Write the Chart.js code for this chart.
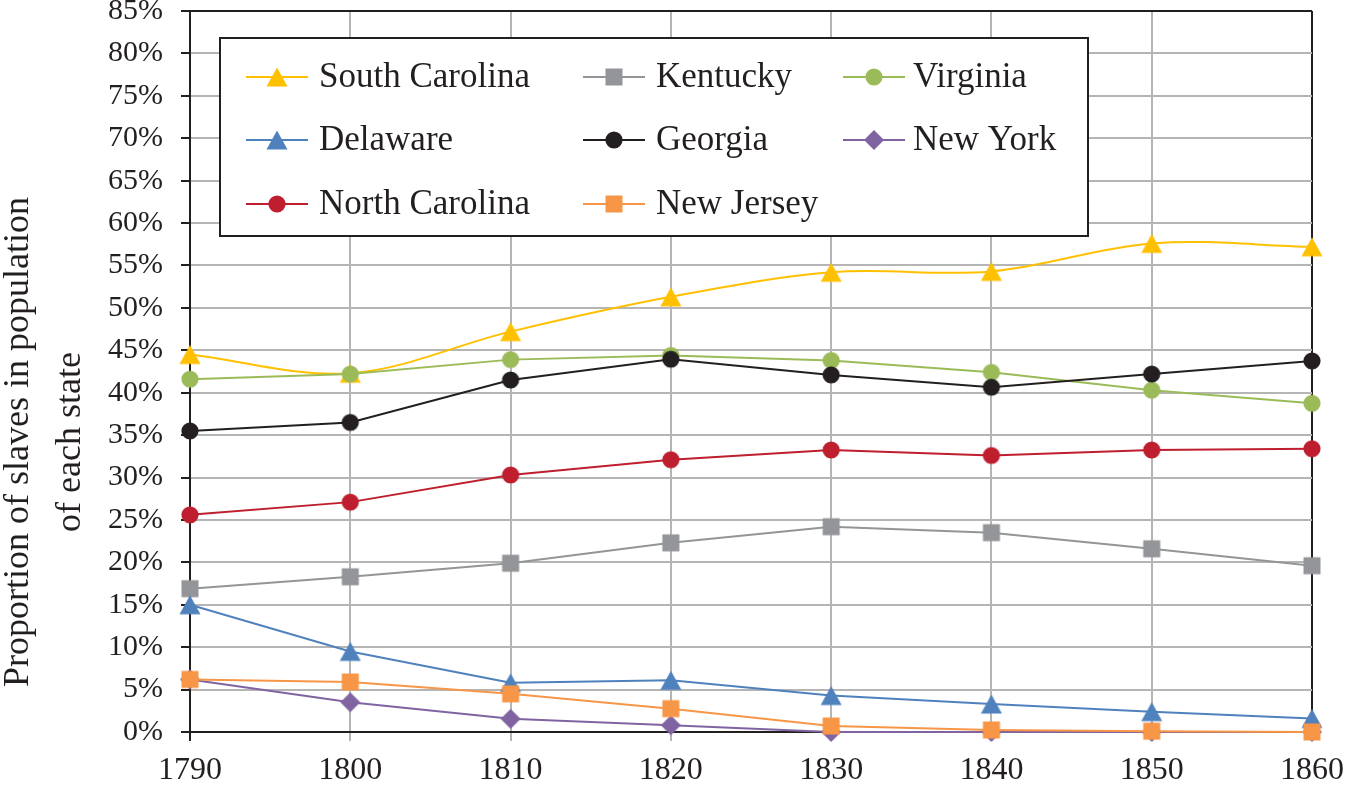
<!DOCTYPE html>
<html>
<head>
<meta charset="utf-8">
<script src="https://cdn.jsdelivr.net/npm/chart.js@4/dist/chart.umd.min.js"></script>
<style>
html,body{margin:0;padding:0;background:#fff;}
#wrap{width:1345px;height:788px;position:relative;}
canvas{display:block;}
</style>
</head>
<body>
<div id="wrap"><canvas id="c" width="1345" height="788"></canvas></div>
<script>
// ---- data ----
const years = ['1790','1800','1810','1820','1830','1840','1850','1860'];
const yTickValues = [0,5,10,15,20,25,30,35,40,45,50,55,60,65,70,75,80,85];
const seriesNames = ['South Carolina','Delaware','North Carolina','Kentucky','Georgia','New Jersey','Virginia','New York'];
const southCarolina = [44.5, 42.3, 47.2, 51.3, 54.2, 54.3, 57.6, 57.2];
const delaware      = [15.0, 9.5, 5.8, 6.1, 4.3, 3.3, 2.4, 1.6];
const northCarolina = [25.6, 27.1, 30.3, 32.1, 33.25, 32.6, 33.25, 33.4];
const kentucky      = [16.9, 18.3, 19.9, 22.3, 24.2, 23.5, 21.6, 19.6];
const georgia       = [35.5, 36.5, 41.5, 43.95, 42.1, 40.65, 42.2, 43.75];
const newJersey     = [6.2, 5.9, 4.5, 2.75, 0.7, 0.24, 0.1, 0];
const virginia      = [41.6, 42.2, 43.9, 44.4, 43.8, 42.4, 40.3, 38.75];
const newYork       = [6.2, 3.5, 1.55, 0.8, 0, 0, 0, 0];
const yTitleLines = ['Proportion of slaves in population', 'of each state'];

// ---- styles ----
const FONT = "'Liberation Serif', 'DejaVu Serif', serif";
const INK = '#231f20';
const GRID = '#b5b5b5';

function marker(shape, color) {
  const c = document.createElement('canvas');
  c.width = 24; c.height = 24;
  const g = c.getContext('2d');
  g.fillStyle = color;
  g.beginPath();
  if (shape === 'triangle') {
    g.moveTo(12, 2.5); g.lineTo(22.5, 21.5); g.lineTo(1.5, 21.5); g.closePath();
  } else if (shape === 'circle') {
    g.arc(12, 12, 8.6, 0, Math.PI * 2);
  } else if (shape === 'square') {
    g.rect(3.5, 3.5, 17, 17);
  } else if (shape === 'diamond') {
    g.moveTo(12, 2); g.lineTo(22, 12); g.lineTo(12, 22); g.lineTo(2, 12); g.closePath();
  }
  g.fill();
  return c;
}

const seriesValues = [southCarolina, delaware, northCarolina, kentucky, georgia, newJersey, virginia, newYork];
const seriesColors = ['#FFC000','#4F81BD','#BE1E2D','#939598','#231F20','#F79646','#9BBB59','#8064A2'];
const seriesShapes = ['triangle','triangle','circle','square','circle','square','circle','diamond'];
const seriesTension = [0.35, 0, 0, 0, 0, 0, 0, 0];
const seriesOrder = [3, 6, 7, 8, 1, 4, 2, 5];

const datasets = seriesNames.map((name, i) => ({
  label: name,
  data: seriesValues[i],
  borderColor: seriesColors[i],
  backgroundColor: seriesColors[i],
  borderWidth: 2,
  pointStyle: marker(seriesShapes[i], seriesColors[i]),
  pointRadius: 9,
  pointHoverRadius: 9,
  tension: seriesTension[i],
  fill: false,
  clip: false,
  order: seriesOrder[i]
}));

const legendLayout = {
  box: {x: 220, y: 38, w: 868, h: 198},
  colX: [246, 583, 843],
  rowY: [77, 140, 204],
  lineLen: 62,
  textX: [319, 656, 913]
};

const legendPlugin = {
  id: 'boxLegend',
  afterDraw(chart) {
    const ctx = chart.ctx;
    const L = legendLayout;
    ctx.save();
    ctx.fillStyle = '#fff';
    ctx.fillRect(L.box.x, L.box.y, L.box.w, L.box.h);
    ctx.strokeStyle = INK;
    ctx.lineWidth = 2;
    ctx.strokeRect(L.box.x, L.box.y, L.box.w, L.box.h);
    chart.data.datasets.forEach((ds, i) => {
      const col = Math.floor(i / 3), row = i % 3;
      const x0 = L.colX[col], y = L.rowY[row];
      ctx.strokeStyle = ds.borderColor;
      ctx.lineWidth = 2;
      ctx.beginPath();
      ctx.moveTo(x0, y); ctx.lineTo(x0 + L.lineLen, y);
      ctx.stroke();
      const img = ds.pointStyle;
      ctx.drawImage(img, x0 + L.lineLen / 2 - img.width / 2, y - img.height / 2);
      ctx.fillStyle = INK;
      ctx.font = "35px " + FONT;
      ctx.textAlign = 'left';
      ctx.textBaseline = 'middle';
      ctx.fillText(ds.label, L.textX[col], y + 1);
    });
    ctx.restore();
  }
};

const yTitlePlugin = {
  id: 'yTitle',
  afterDraw(chart) {
    const ctx = chart.ctx;
    ctx.save();
    ctx.fillStyle = INK;
    ctx.font = "36px " + FONT;
    ctx.textAlign = 'center';
    ctx.textBaseline = 'alphabetic';
    const baselines = [28, 80];
    yTitleLines.forEach((t, i) => {
      ctx.save();
      ctx.translate(baselines[i], 442);
      ctx.rotate(-Math.PI / 2);
      ctx.fillText(t, 0, 0);
      ctx.restore();
    });
    ctx.restore();
  }
};

new Chart(document.getElementById('c'), {
  type: 'line',
  data: { labels: years, datasets: datasets },
  options: {
    responsive: false,
    animation: false,
    devicePixelRatio: 1,
    layout: { padding: { top: 11, right: 33, left: 0, bottom: 0 } },
    plugins: {
      legend: { display: false },
      title: { display: false },
      tooltip: { enabled: false }
    },
    elements: { line: { cubicInterpolationMode: 'default' } },
    scales: {
      x: {
        type: 'category',
        offset: false,
        grid: {
          color: (c) => (c.index === years.length - 1 ? INK : GRID),
          lineWidth: 2,
          tickLength: 9,
          tickColor: (c) => (c.index === 0 ? INK : GRID),
          drawTicks: true
        },
        border: { color: INK, width: 2 },
        ticks: {
          color: INK,
          font: { family: FONT, size: 32 },
          padding: 10,
          maxRotation: 0,
          autoSkip: false
        },
        afterFit(s) { s.height = 56; s.paddingLeft = 0; s.paddingRight = 0; }
      },
      y: {
        min: 0,
        max: 85,
        afterBuildTicks(s) { s.ticks = yTickValues.map(v => ({ value: v })); },
        grid: {
          color: (c) => (c.tick && c.tick.value === 85 ? INK : GRID),
          lineWidth: 2,
          tickLength: 9,
          tickColor: INK
        },
        border: { color: INK, width: 2 },
        ticks: {
          color: INK,
          font: { family: FONT, size: 30 },
          padding: 18,
          callback: (v) => v + '%'
        },
        afterFit(s) { s.width = 190; s.paddingTop = 0; s.paddingBottom = 0; }
      }
    }
  },
  plugins: [legendPlugin, yTitlePlugin]
});
</script>
</body>
</html>
